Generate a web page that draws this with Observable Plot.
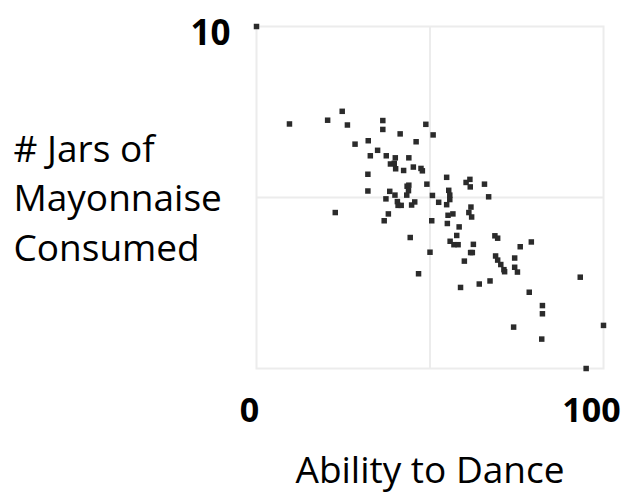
<!DOCTYPE html>
<html>
<head>
<meta charset="utf-8">
<script src="https://cdn.jsdelivr.net/npm/d3@7"></script>
<script src="https://cdn.jsdelivr.net/npm/@observablehq/plot@0.6"></script>
<style>
  html, body { margin: 0; padding: 0; background: #fff; }
  #chart { width: 626px; height: 496px; }
  #chart svg { overflow: visible; }
</style>
</head>
<body>
<div id="chart"></div>
<script>
const dance = [0, 9.5, 20.5, 24.7, 26.2, 36.4, 36.4, 41.4, 48.8, 50.9,
  28.4, 32.2, 46.0, 32.8, 34.9, 37.4, 40.0, 43.9, 38.6, 39.7,
  40.1, 42.4, 45.2, 47.4, 47.8, 32.1, 54.8, 49.1, 60.4, 61.5,
  61.6, 65.7, 43.4, 43.9, 43.8, 32.1, 38.4, 55.4, 39.9, 43.3,
  50.7, 55.7, 66.9, 37.3, 55.7, 40.6, 40.8, 41.7, 44.7, 45.6,
  52.5, 54.8, 61.8, 22.7, 38.0, 55.2, 56.6, 61.2, 62.0, 36.8,
  50.5, 55.0, 58.4, 44.3, 57.7, 55.8, 56.9, 58.1, 62.5, 68.7,
  69.5, 61.7, 62.2, 50.0, 59.9, 76.0, 79.2, 68.9, 69.5, 70.4,
  71.3, 71.5, 74.4, 74.4, 75.2, 58.8, 64.2, 67.3, 93.3, 46.7,
  78.6, 82.4, 82.4, 74.1, 100, 82.2, 95.0];
const jars = [10, 7.15, 7.26, 7.52, 7.12, 7.25, 6.99, 6.86, 7.14, 6.83,
  6.56, 6.66, 6.63, 6.22, 6.38, 6.22, 6.16, 6.16, 5.98, 6.00,
  5.84, 5.79, 5.89, 5.85, 5.78, 5.68, 5.59, 5.39, 5.44, 5.53,
  5.31, 5.39, 5.33, 5.36, 5.20, 5.19, 5.18, 5.21, 5.07, 5.07,
  5.06, 5.07, 5.02, 4.96, 4.94, 4.88, 4.77, 4.77, 4.78, 4.87,
  4.86, 4.79, 4.72, 4.56, 4.52, 4.48, 4.52, 4.56, 4.43, 4.32,
  4.32, 4.24, 4.14, 3.83, 3.89, 3.72, 3.62, 3.62, 3.63, 3.88,
  3.81, 3.39, 3.39, 3.40, 3.14, 3.56, 3.70, 3.29, 3.17, 3.04,
  2.89, 2.83, 3.23, 2.96, 2.82, 2.37, 2.47, 2.56, 2.67, 2.77,
  2.23, 1.84, 1.60, 1.21, 1.26, 0.86, 0.0];
const xTickLeft = [0];
const xTickRight = [100];
const yTicks = [10];
const xGrid = [50];
const yGrid = [5];
const xLabel = "Ability to Dance";
const yLabel = "# Jars of\nMayonnaise\nConsumed";

const points = dance.map((d, i) => ({dance: d, jars: jars[i]}));
const font = "'Open Sans', sans-serif";

const chart = Plot.plot({
  width: 626,
  height: 496,
  marginLeft: 256,
  marginRight: 23,
  marginTop: 26,
  marginBottom: 128,
  style: {fontFamily: font, background: "transparent", color: "#000"},
  x: {domain: [0, 100]},
  y: {domain: [0, 10]},
  marks: [
    Plot.frame({stroke: "#ececec", strokeWidth: 2}),
    Plot.gridX(xGrid, {stroke: "#ececec", strokeWidth: 2, strokeOpacity: 1}),
    Plot.gridY(yGrid, {stroke: "#ececec", strokeWidth: 2, strokeOpacity: 1}),
    Plot.axisX(xTickLeft, {tickSize: 0, tickPadding: 29, fontSize: 34, fontWeight: "bold", dx: -7, label: null}),
    Plot.axisX(xTickRight, {tickSize: 0, tickPadding: 29, fontSize: 34, fontWeight: "bold", dx: -12, label: null}),
    Plot.axisY(yTicks, {tickSize: 0, tickPadding: 26, fontSize: 35, fontWeight: "bold", dy: 7, label: null}),
    Plot.text([xLabel], {frameAnchor: "bottom", text: d => d, fontSize: 37, dy: 103, lineAnchor: "middle"}),
    Plot.text([yLabel], {frameAnchor: "left", text: d => d, fontSize: 37, textAnchor: "start", dx: -243, dy: -2, lineAnchor: "middle", lineHeight: 1.35}),
    Plot.dot(points, {x: "dance", y: "jars", symbol: "square", r: 3.1, fill: "#2b2b2b", stroke: "none"})
  ]
});
document.getElementById("chart").appendChild(chart);
</script>
</body>
</html>
